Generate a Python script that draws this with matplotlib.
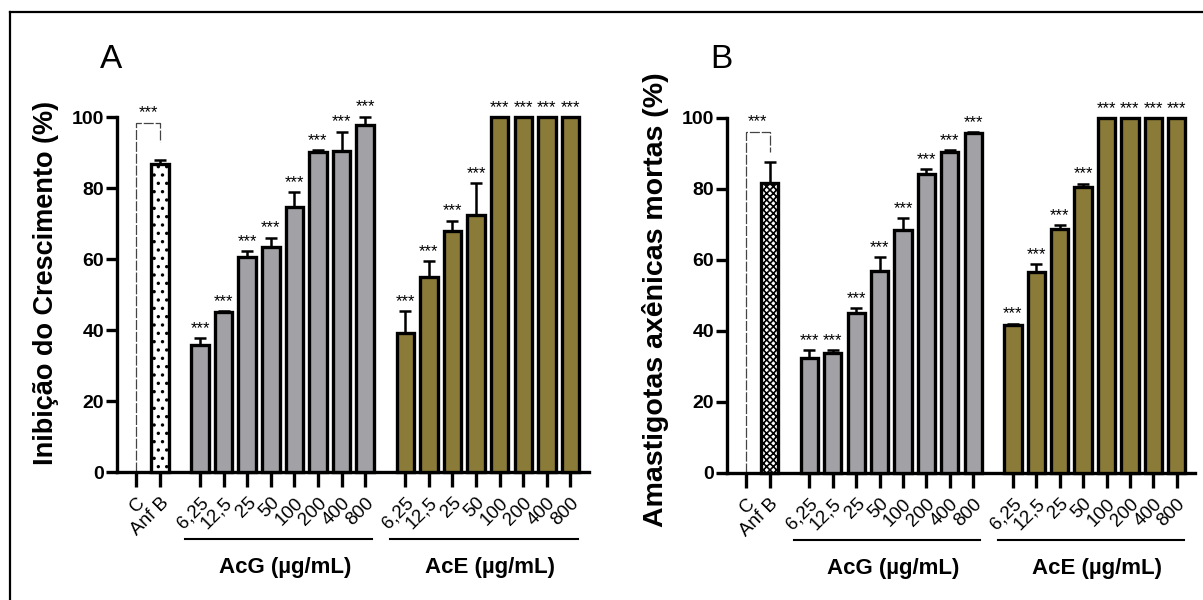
import matplotlib
matplotlib.use('Agg')
import matplotlib.pyplot as plt
from matplotlib.lines import Line2D

plt.rcParams['font.family'] = ['Liberation Sans', 'DejaVu Sans']
plt.rcParams['hatch.linewidth'] = 1.2

# dados
conc_labels = ['6,25', '12,5', '25', '50', '100', '200', '400', '800']
ctrl_labels = ['C', 'Anf B']

# painel A - inibicao do crescimento
a_anfb = 86.7
a_anfb_err = 1.2
a_acg = [35.8, 45.0, 60.5, 63.5, 74.7, 90.2, 90.5, 97.7]
a_acg_err = [2.0, 0.3, 1.8, 2.5, 4.1, 0.4, 5.4, 2.4]
a_ace = [39.1, 54.8, 68.0, 72.4, 100, 100, 100, 100]
a_ace_err = [6.3, 4.7, 2.8, 8.9, 0, 0, 0, 0]

# painel B - amastigotas axenicas mortas
b_anfb = 81.7
b_anfb_err = 6.0
b_acg = [32.3, 33.9, 45.0, 56.9, 68.5, 84.2, 90.4, 95.7]
b_acg_err = [2.3, 0.7, 1.4, 4.0, 3.3, 1.4, 0.6, 0.4]
b_ace = [41.7, 56.6, 68.6, 80.6, 100, 100, 100, 100]
b_ace_err = [0.4, 2.3, 1.2, 0.9, 0, 0, 0, 0]

GRAY = '#a2a2a6'
OLIVE = '#8b7b38'
W = 0.74


def draw_panel(ax, anfb, anfb_err, acg, acg_err, ace, ace_err, anfb_hatch,
               bracket_top, bracket_leg, ylabel, ylabel_size):
    x_acg = [2.7 + i for i in range(8)]
    x_ace = [11.4 + i for i in range(8)]

    ax.bar([1], [anfb], width=W, color='white', edgecolor='black', linewidth=2.4,
           hatch=anfb_hatch, clip_on=False, zorder=3)
    ax.bar(x_acg, acg, width=W, color=GRAY, edgecolor='black', linewidth=2.4,
           clip_on=False, zorder=3)
    ax.bar(x_ace, ace, width=W, color=OLIVE, edgecolor='black', linewidth=2.4,
           clip_on=False, zorder=3)

    xs = [1] + x_acg + x_ace
    ys = [anfb] + acg + ace
    es = [anfb_err] + acg_err + ace_err
    eb = ax.errorbar(xs, ys, yerr=[[0] * len(es), es], fmt='none', ecolor='black',
                     elinewidth=1.8, capsize=4, capthick=1.8, zorder=2)
    for art in eb.lines[1] + eb.lines[2]:
        art.set_clip_on(False)

    # estrelas
    for x, y, e in zip(x_acg + x_ace, acg + ace, acg_err + ace_err):
        ax.annotate('***', (x, y + e), xytext=(0, 1.5), textcoords='offset points',
                    ha='center', va='bottom', fontsize=12, annotation_clip=False)

    # colchete C vs Anf B
    ax.plot([0, 0, 1, 1], [0, bracket_top, bracket_top, bracket_leg], color='#444444',
            lw=0.9, ls=(0, (8, 1.5)), clip_on=False, zorder=2)
    ax.annotate('***', (0.5, bracket_top), xytext=(0, 2), textcoords='offset points',
                ha='center', va='bottom', fontsize=12, annotation_clip=False)

    ax.set_xlim(-0.83, 19.2)
    ax.set_ylim(0, 100)
    ax.set_yticks([0, 20, 40, 60, 80, 100])
    ax.set_xticks([0, 1] + x_acg + x_ace)
    ax.set_xticklabels(ctrl_labels + conc_labels + conc_labels, rotation=45,
                       ha='right', va='top', rotation_mode='anchor', fontsize=13.5)
    for lab in ax.get_yticklabels():
        lab.set_fontweight('bold')
        lab.set_fontsize(14)
    for s in ['top', 'right']:
        ax.spines[s].set_visible(False)
    for s in ['left', 'bottom']:
        ax.spines[s].set_linewidth(2.4)
    ax.tick_params(axis='y', length=8, width=2.4, pad=1)
    ax.tick_params(axis='x', length=11, width=2.4, pad=5)

    # grupos
    for xg, name in [(x_acg, 'AcG (µg/mL)'), (x_ace, 'AcE (µg/mL)')]:
        ax.add_line(Line2D([xg[0] - 0.65, xg[-1] + 0.3], [-0.19, -0.19], color='black',
                           lw=1.5, transform=ax.get_xaxis_transform(), clip_on=False))
        ax.text((xg[0] + xg[-1]) / 2 + 0.1, -0.268, name, transform=ax.get_xaxis_transform(),
                ha='center', va='center', fontsize=16, fontweight='bold')

    ax.set_ylabel(ylabel, fontsize=ylabel_size, fontweight='bold')
    return ax


fig = plt.figure(figsize=(12.03, 6.0), dpi=100)

ax_a = fig.add_axes([0.097, 0.2133, 0.3929, 0.5917])
draw_panel(ax_a, a_anfb, a_anfb_err, a_acg, a_acg_err, a_ace, a_ace_err, '..',
           98.3, 92.9, 'Inibição do Crescimento (%)', 19.5)
ax_a.yaxis.set_label_coords(-0.122, 0.534)

ax_b = fig.add_axes([0.6042, 0.2117, 0.3895, 0.5917])
draw_panel(ax_b, b_anfb, b_anfb_err, b_acg, b_acg_err, b_ace, b_ace_err, 'xxxxx',
           96.1, 90.5, 'Amastigotas axênicas mortas (%)', 20.5)
ax_b.yaxis.set_label_coords(-0.123, 0.487)

# letras dos paineis
fig.text(111 / 1203, 1 - 59 / 600, 'A', fontsize=24, ha='center', va='center')
fig.text(721 / 1203, 1 - 59 / 600, 'B', fontsize=24, ha='center', va='center')

# moldura (so topo e esquerda)
fig.add_artist(Line2D([10 / 1203, 10 / 1203], [0, 1 - 12 / 600], color='black', lw=1.6,
                      transform=fig.transFigure))
fig.add_artist(Line2D([10 / 1203, 1], [1 - 12 / 600, 1 - 12 / 600], color='black', lw=1.6,
                      transform=fig.transFigure))

fig.savefig('out.png', dpi=100)
